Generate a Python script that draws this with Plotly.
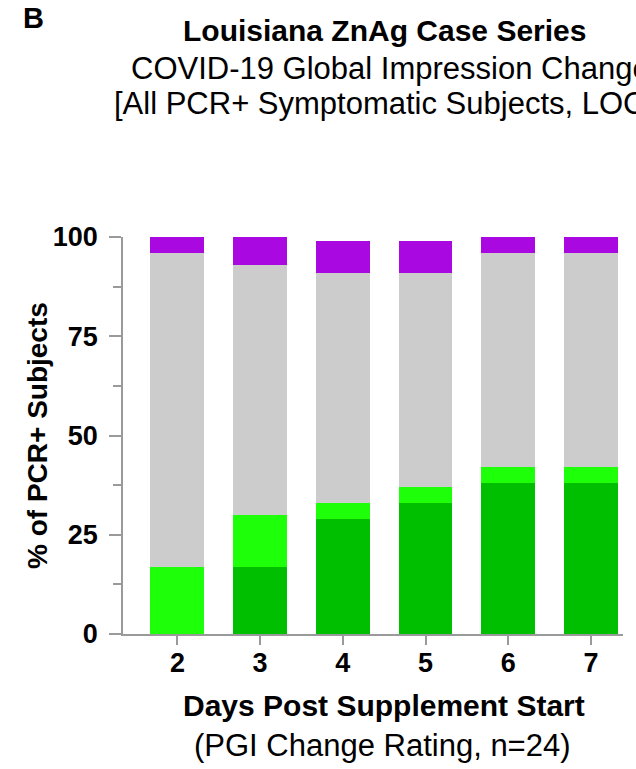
import plotly.graph_objects as go

days = ["2", "3", "4", "5", "6", "7"]
day_pos = [2, 3, 4, 5, 6, 7]
much_better = [0, 17, 29, 33, 38, 38]
better = [17, 13, 4, 4, 4, 4]
no_change = [79, 63, 58, 54, 54, 54]
worse = [4, 7, 8, 8, 4, 4]
y_ticks = [0, 25, 50, 75, 100]

series = [
    ("Much better", much_better, "#00BE00"),
    ("Better", better, "#1EFF0A"),
    ("No change", no_change, "#CCCCCC"),
    ("Worse", worse, "#AA08E0"),
]

fig = go.Figure()
for name, vals, col in series:
    fig.add_trace(go.Bar(x=day_pos, y=vals, name=name, width=0.652,
                         marker=dict(color=col, line=dict(width=0))))

W, H = 636, 769
L, R, T, B = 123, 13, 237, 135
pw, ph = W - L - R, H - T - B


def px(x):
    return (x - L) / pw


def py(y):
    return (H - B - y) / ph


ann = [
    dict(text="<b>B</b>", x=px(21), y=py(18), xanchor="left", yanchor="middle",
         font=dict(size=29)),
    dict(text="<b>Louisiana ZnAg Case Series</b>", x=px(384), y=py(30),
         xanchor="center", yanchor="middle", font=dict(size=30)),
    dict(text="COVID-19 Global Impression Change", x=px(129), y=py(68),
         xanchor="left", yanchor="middle", font=dict(size=31)),
    dict(text="[All PCR+ Symptomatic Subjects, LOC", x=px(112), y=py(104),
         xanchor="left", yanchor="middle", font=dict(size=31)),
    dict(text="<b>Days Post Supplement Start</b>", x=px(384), y=py(705),
         xanchor="center", yanchor="middle", font=dict(size=30)),
    dict(text="(PGI Change Rating, n=24)", x=px(382), y=py(745),
         xanchor="center", yanchor="middle", font=dict(size=31)),
    dict(text="<b>% of PCR+ Subjects</b>", x=px(37), y=py(436), textangle=-90,
         xanchor="center", yanchor="middle", font=dict(size=28)),
]
for a in ann:
    a.update(xref="paper", yref="paper", showarrow=False)

axis_col = "#9A9A9A"
fig.update_layout(
    width=W, height=H,
    margin=dict(l=L, r=R, t=T, b=B, pad=0),
    barmode="stack",
    showlegend=False,
    plot_bgcolor="white",
    paper_bgcolor="white",
    font=dict(family="Liberation Sans, Arial, sans-serif", color="black"),
    annotations=ann,
    xaxis=dict(
        range=[1.342, 7.388], tickvals=day_pos, ticktext=[f"<b>{d}</b>" for d in days],
        showline=True, linecolor=axis_col, linewidth=1.5, showgrid=False, zeroline=False,
        ticks="outside", ticklen=9, tickwidth=1.5, tickcolor=axis_col,
        tickfont=dict(size=27), ticklabelstandoff=-5,
    ),
    yaxis=dict(
        range=[0, 100], tickvals=y_ticks, ticktext=[f"<b>{v}</b>" for v in y_ticks],
        showline=True, linecolor=axis_col, linewidth=1.5, showgrid=False, zeroline=False,
        ticks="outside", ticklen=12, tickwidth=1.5, tickcolor=axis_col,
        tickfont=dict(size=27), ticklabelstandoff=6,
        minor=dict(dtick=12.5, tick0=0, ticks="outside", ticklen=8, tickwidth=1.5,
                   tickcolor=axis_col, showgrid=False),
    ),
)

fig.write_html("out.html", config={"displayModeBar": False},
               post_script="document.body.style.margin='0px';")
